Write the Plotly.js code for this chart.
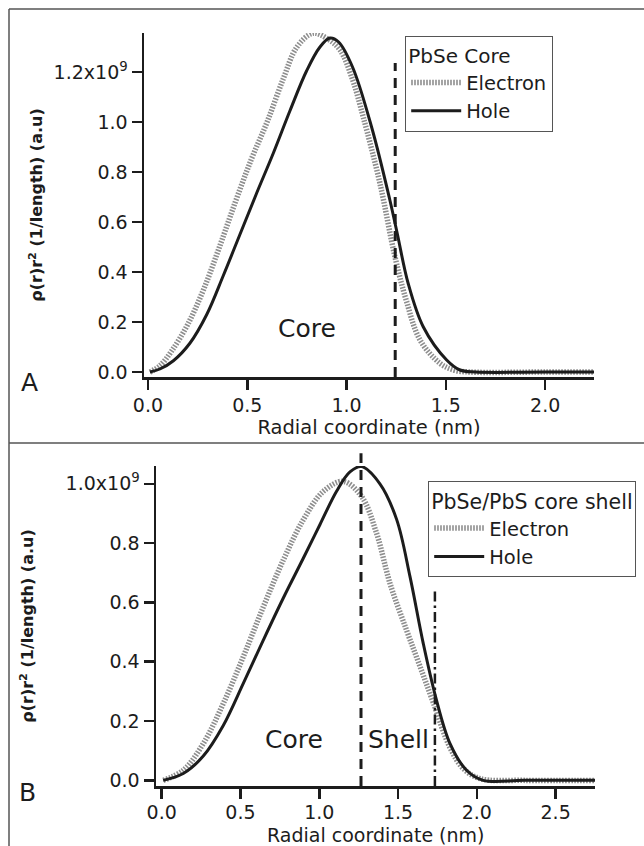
<!DOCTYPE html>
<html>
<head>
<meta charset="utf-8">
<script src="https://cdn.plot.ly/plotly-3.0.1.min.js"></script>
<style>html,body{margin:0;padding:0;background:#fff;}#chart{width:644px;height:846px;}</style>
</head>
<body>
<div id="chart"></div>
<script>
// ---------- DATA (rho(r) r^2 in units of 1e9, radial coordinate in nm) ----------
// Panel A : PbSe core
const coreElectronR   = [0.01, 0.06, 0.12, 0.20, 0.28, 0.36, 0.44, 0.52, 0.60, 0.68, 0.75, 0.83, 0.90, 0.967, 1.03, 1.084, 1.168, 1.244, 1.30, 1.37, 1.47, 1.54, 1.62, 2.0, 2.25];
const coreElectronRho = [0.0, 0.025, 0.085, 0.19, 0.33, 0.50, 0.68, 0.85, 1.00, 1.17, 1.30, 1.355, 1.335, 1.288, 1.17, 1.02, 0.755, 0.46, 0.288, 0.128, 0.035, 0.008, 0.0, 0.0, 0.0];
const coreHoleR   = [0.01, 0.06, 0.128, 0.211, 0.296, 0.379, 0.463, 0.547, 0.631, 0.715, 0.799, 0.866, 0.916, 0.96, 1.03, 1.126, 1.218, 1.255, 1.31, 1.386, 1.504, 1.571, 1.65, 2.0, 2.25];
const coreHoleRho = [0.0, 0.012, 0.045, 0.115, 0.23, 0.385, 0.55, 0.715, 0.875, 1.045, 1.205, 1.30, 1.336, 1.32, 1.22, 0.98, 0.688, 0.555, 0.355, 0.181, 0.048, 0.008, 0.0, 0.0, 0.0];
const coreRadiusA = 1.245;
const coreLineTopA = 1.236;

// Panel B : PbSe/PbS core shell
const csElectronR   = [0.01, 0.137, 0.264, 0.391, 0.518, 0.645, 0.772, 0.898, 1.025, 1.152, 1.269, 1.364, 1.449, 1.555, 1.639, 1.724, 1.83, 1.914, 2.02, 2.3, 2.75];
const csElectronRho = [0.0, 0.034, 0.124, 0.259, 0.417, 0.585, 0.743, 0.878, 0.974, 1.008, 0.957, 0.833, 0.664, 0.505, 0.385, 0.262, 0.11, 0.04, 0.006, 0.0, 0.0];
const csHoleR   = [0.01, 0.137, 0.264, 0.391, 0.518, 0.645, 0.772, 0.898, 1.004, 1.11, 1.195, 1.269, 1.385, 1.491, 1.576, 1.66, 1.739, 1.83, 1.935, 2.04, 2.3, 2.75];
const csHoleRho = [0.0, 0.023, 0.082, 0.185, 0.327, 0.473, 0.615, 0.748, 0.862, 0.975, 1.04, 1.058, 1.0, 0.88, 0.687, 0.462, 0.281, 0.124, 0.034, 0.0, 0.0, 0.0];
const coreRadiusB = 1.265;
const shellRadiusB = 1.734;
const shellLineTopB = 0.642;

// Tick labels
const xTicksA = [0, 0.5, 1.0, 1.5, 2.0];
const xTickTextA = ["0.0", "0.5", "1.0", "1.5", "2.0"];
const yTicksA = [0, 0.2, 0.4, 0.6, 0.8, 1.0, 1.2];
const yTickTextA = ["0.0", "0.2", "0.4", "0.6", "0.8", "1.0", "1.2x10<sup>9</sup>"];
const xTicksB = [0, 0.5, 1.0, 1.5, 2.0, 2.5];
const xTickTextB = ["0.0", "0.5", "1.0", "1.5", "2.0", "2.5"];
const yTicksB = [0, 0.2, 0.4, 0.6, 0.8, 1.0];
const yTickTextB = ["0.0", "0.2", "0.4", "0.6", "0.8", "1.0x10<sup>9</sup>"];
const xTitleText = "Radial coordinate (nm)";

// ---------- STYLE ----------
const FONT = "DejaVu Sans, Verdana, sans-serif";
const W = 644, H = 846;
const INK = "#1c1c1c";
const GRAY = "#8e8e8e";
const px = v => v / W;
const py = v => 1 - v / H;

const electronLine = {color: GRAY, width: 5.5, dash: "1.6px,1.4px", shape: "spline", smoothing: 1};
const holeLine = {color: INK, width: 3, shape: "spline", smoothing: 1};

const traces = [
  {x: coreElectronR, y: coreElectronRho, xaxis: "x", yaxis: "y", mode: "lines", name: "Electron", line: electronLine, legend: "legend"},
  {x: coreHoleR, y: coreHoleRho, xaxis: "x", yaxis: "y", mode: "lines", name: "Hole", line: holeLine, legend: "legend"},
  {x: csElectronR, y: csElectronRho, xaxis: "x2", yaxis: "y2", mode: "lines", name: "Electron", line: electronLine, legend: "legend2"},
  {x: csHoleR, y: csHoleRho, xaxis: "x2", yaxis: "y2", mode: "lines", name: "Hole", line: holeLine, legend: "legend2"}
];

const axisBase = {
  showline: true, linecolor: INK, linewidth: 2.5,
  ticks: "outside", ticklen: 10, tickwidth: 2.5, tickcolor: INK,
  showgrid: false, zeroline: false, tickmode: "array",
  tickfont: {family: FONT, size: 19, color: INK}
};
const titleFont = {family: FONT, size: 19.5, color: INK};
const yTitle = standoff => ({text: "<b>ρ(r)r<sup>2</sup> (1/length) (a.u)</b>", font: {family: FONT, size: 16, color: INK}, standoff: standoff});

const legendBase = {
  xanchor: "left", yanchor: "top", bgcolor: "#ffffff", bordercolor: "#555", borderwidth: 1.2,
  font: {family: FONT, size: 19.5, color: INK}, tracegroupgap: 0, itemwidth: 50
};

const layout = {
  width: W, height: H,
  margin: {l: 0, r: 0, t: 0, b: 0},
  paper_bgcolor: "#ffffff", plot_bgcolor: "#ffffff",
  showlegend: true,
  xaxis: Object.assign({}, axisBase, {domain: [px(144), px(594)], range: [-0.02, 2.246], anchor: "y", tickvals: xTicksA, ticktext: xTickTextA, title: {text: xTitleText, font: titleFont, standoff: 3}}),
  yaxis: Object.assign({}, axisBase, {domain: [py(377), py(33)], range: [-0.02, 1.356], anchor: "x", tickvals: yTicksA, ticktext: yTickTextA, title: yTitle(7)}),
  xaxis2: Object.assign({}, axisBase, {domain: [px(156), px(595)], range: [-0.036, 2.75], anchor: "y2", tickvals: xTicksB, ticktext: xTickTextB, ticklabelstandoff: -2}),
  yaxis2: Object.assign({}, axisBase, {domain: [py(786), py(466)], range: [-0.019, 1.06], anchor: "x2", tickvals: yTicksB, ticktext: yTickTextB, title: yTitle(28)}),
  legend: Object.assign({}, legendBase, {x: px(405), y: py(36), title: {text: "PbSe Core", font: {family: FONT, size: 20, color: INK}}}),
  legend2: Object.assign({}, legendBase, {x: px(428), y: py(481), title: {text: "PbSe/PbS core shell", font: {family: FONT, size: 20.5, color: INK}}}),
  shapes: [
    // frame
    {type: "line", xref: "paper", yref: "paper", x0: px(9), x1: 1, y0: py(9), y1: py(9), line: {color: "#555", width: 1.5}},
    {type: "line", xref: "paper", yref: "paper", x0: px(9), x1: px(9), y0: py(9), y1: 0, line: {color: "#555", width: 1.5}},
    {type: "line", xref: "paper", yref: "paper", x0: px(9), x1: 1, y0: py(443), y1: py(443), line: {color: "#555", width: 1.5}},
    // boundaries
    {type: "line", xref: "x", yref: "y", x0: coreRadiusA, x1: coreRadiusA, y0: -0.02, y1: coreLineTopA, line: {color: INK, width: 3, dash: "10px,7px"}},
    {type: "line", xref: "x2", yref: "y2 domain", x0: coreRadiusB, x1: coreRadiusB, y0: 0, y1: 1.04, line: {color: INK, width: 3, dash: "10px,7px"}},
    {type: "line", xref: "x2", yref: "y2", x0: shellRadiusB, x1: shellRadiusB, y0: -0.019, y1: shellLineTopB, line: {color: INK, width: 2.5, dash: "10px,4px,2.5px,4px"}}
  ],
  annotations: [
    // x-axis title of panel B (placed below the tick labels, as in the original figure)
    {text: xTitleText, xref: "x2 domain", yref: "paper", x: 0.5, y: py(835), xanchor: "center", yanchor: "middle", showarrow: false, font: {family: FONT, size: 19, color: INK}},
    {text: "A", xref: "paper", yref: "paper", x: px(29), y: py(383), xanchor: "center", yanchor: "middle", showarrow: false, font: {family: FONT, size: 25, color: INK}},
    {text: "B", xref: "paper", yref: "paper", x: px(27), y: py(792), xanchor: "center", yanchor: "middle", showarrow: false, font: {family: FONT, size: 25, color: INK}},
    {text: "Core", xref: "x", yref: "y", x: 0.80, y: 0.175, xanchor: "center", yanchor: "middle", showarrow: false, font: {family: FONT, size: 25, color: INK}},
    {text: "Core", xref: "x2", yref: "y2", x: 0.84, y: 0.137, xanchor: "center", yanchor: "middle", showarrow: false, font: {family: FONT, size: 25, color: INK}},
    {text: "Shell", xref: "x2", yref: "y2", x: 1.503, y: 0.137, xanchor: "center", yanchor: "middle", showarrow: false, font: {family: FONT, size: 25, color: INK}}
  ]
};

Plotly.newPlot("chart", traces, layout, {displayModeBar: false, staticPlot: true});
</script>
</body>
</html>
